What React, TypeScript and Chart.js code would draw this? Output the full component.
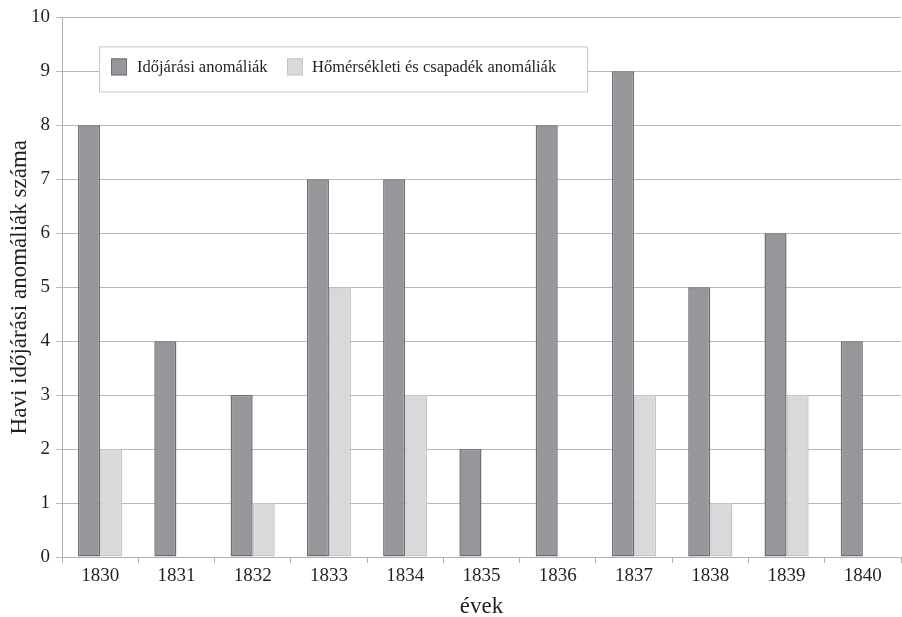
import React, { useEffect, useRef } from "react";
import { Chart, registerables } from "chart.js";

Chart.register(...registerables);

const years = ["1830", "1831", "1832", "1833", "1834", "1835", "1836", "1837", "1838", "1839", "1840"];
const weatherAnomalies = [8, 4, 3, 7, 7, 2, 8, 9, 5, 6, 4];
const tempPrecipAnomalies = [2, null, 1, 5, 3, null, null, 3, 1, 3, null];
const seriesNames = ["Időjárási anomáliák", "Hőmérsékleti és csapadék anomáliák"];
const yTitle = "Havi időjárási anomáliák száma";
const xTitle = "évek";

const FONT = "'Liberation Serif', 'DejaVu Serif', serif";
const TEXT = "#231f20";
const DARK_FILL = "#97969b";
const DARK_BORDER = "#6f6e73";
const LIGHT_FILL = "#d9d9db";
const LIGHT_BORDER = "#c6c6c8";

const legendBoxPlugin = {
  id: "legendBox",
  afterDraw(chart: any) {
    const ctx = chart.ctx;
    const { left, top } = chart.chartArea;
    const x = left + 37;
    const y = top + 29;
    const w = 488;
    const h = 45;
    ctx.save();
    ctx.fillStyle = "#ffffff";
    ctx.fillRect(x, y, w, h);
    ctx.strokeStyle = "#c8c8c8";
    ctx.lineWidth = 1;
    ctx.strokeRect(x + 0.5, y + 0.5, w, h);
    ctx.font = `16.5px ${FONT}`;
    ctx.textBaseline = "middle";
    const items = [
      { fill: DARK_FILL, border: DARK_BORDER, sx: x + 12, tx: x + 38 },
      { fill: LIGHT_FILL, border: LIGHT_BORDER, sx: x + 188, tx: x + 213 },
    ];
    items.forEach((it, i) => {
      ctx.fillStyle = it.fill;
      ctx.fillRect(it.sx, y + 12, 16, 17);
      ctx.strokeStyle = it.border;
      ctx.strokeRect(it.sx + 0.5, y + 12.5, 15, 16);
      ctx.fillStyle = TEXT;
      ctx.fillText(seriesNames[i], it.tx, y + 21);
    });
    ctx.restore();
  },
};

export default function App() {
  const ref = useRef<HTMLCanvasElement | null>(null);
  useEffect(() => {
    document.body.style.margin = "0";
    const chart = new Chart(ref.current as HTMLCanvasElement, {
      type: "bar",
      data: {
        labels: years,
        datasets: [
          {
            label: seriesNames[0],
            data: weatherAnomalies,
            backgroundColor: DARK_FILL,
            borderColor: DARK_BORDER,
            borderWidth: 1.5,
            borderSkipped: false,
            categoryPercentage: 0.58,
            barPercentage: 1,
          },
          {
            label: seriesNames[1],
            data: tempPrecipAnomalies as any,
            backgroundColor: LIGHT_FILL,
            borderColor: LIGHT_BORDER,
            borderWidth: 1.5,
            borderSkipped: false,
            categoryPercentage: 0.58,
            barPercentage: 1,
          },
        ],
      },
      options: {
        animation: false,
        responsive: false,
        maintainAspectRatio: false,
        layout: { padding: { top: 13, right: 1, left: 6, bottom: 0 } },
        plugins: {
          legend: { display: false },
          tooltip: { enabled: false },
        },
        scales: {
          x: {
            offset: true,
            grid: {
              offset: true,
              drawOnChartArea: false,
              drawTicks: true,
              tickLength: 6,
              color: "#b0b0b0",
            },
            border: { display: true, color: "#b0b0b0" },
            ticks: { color: TEXT, font: { family: FONT, size: 19 }, padding: 2 },
            title: { display: true, text: xTitle, color: TEXT, font: { family: FONT, size: 23 }, padding: { top: 6, bottom: -4 } },
            afterFit: (s: any) => {
              s.height = 60;
            },
          },
          y: {
            min: 0,
            max: 10,
            z: 1,
            ticks: { stepSize: 1, color: TEXT, font: { family: FONT, size: 19 }, padding: 6 },
            grid: { color: "rgba(0,0,0,0.28)", tickLength: 6, drawTicks: true },
            border: { display: true, color: "#b0b0b0" },
            title: { display: true, text: yTitle, color: TEXT, font: { family: FONT, size: 23 }, padding: { top: 0, bottom: 4 } },
            afterFit: (s: any) => {
              s.width = 56;
            },
          },
        },
      },
      plugins: [legendBoxPlugin],
    });
    return () => chart.destroy();
  }, []);
  return (
    <div style={{ width: 902, height: 617 }}>
      <canvas ref={ref} width={902} height={617} style={{ display: "block" }} />
    </div>
  );
}
